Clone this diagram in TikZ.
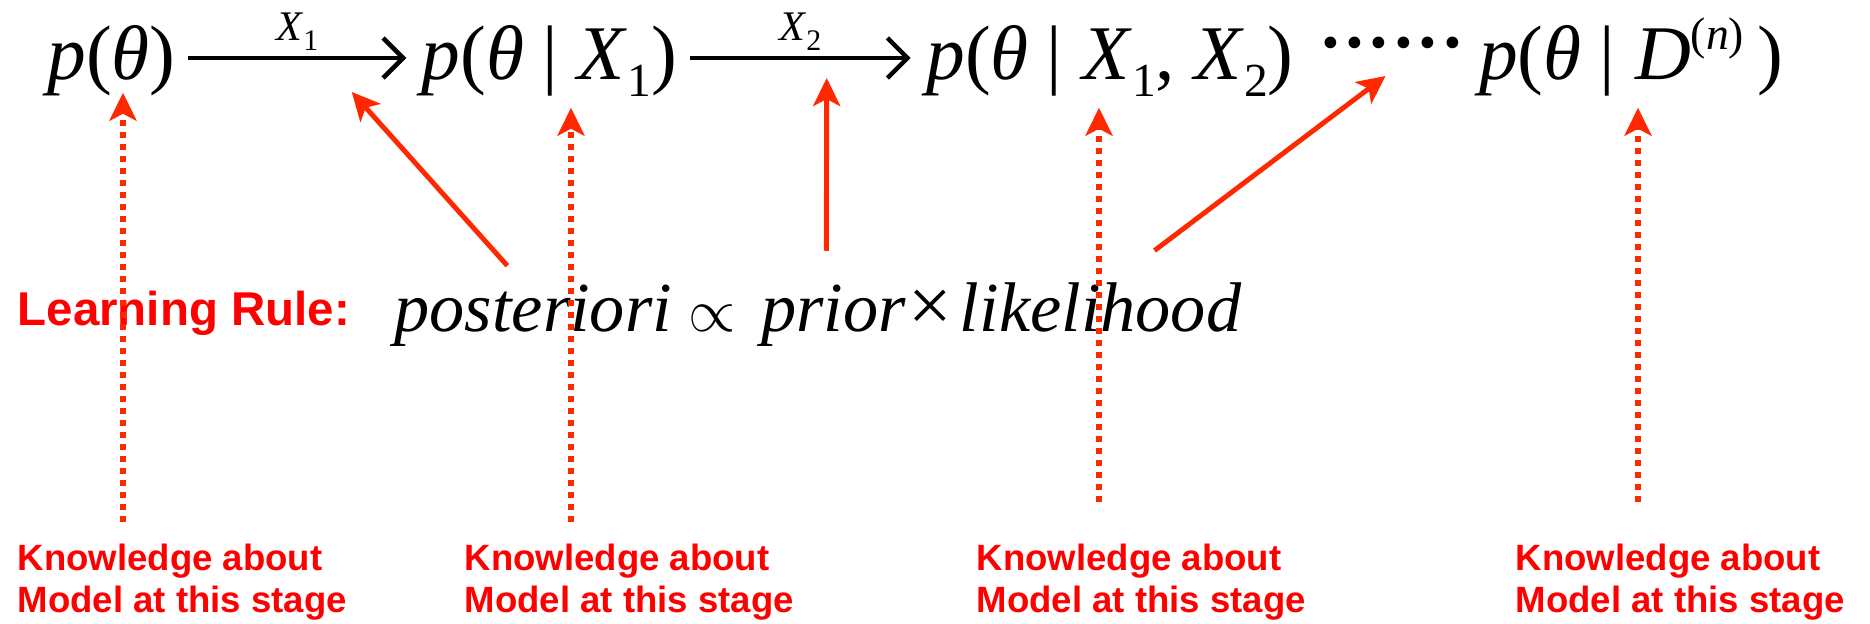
\documentclass[tikz,border=0pt]{standalone}
\usepackage{fontspec}
\setmainfont{Liberation Serif}
\newfontfamily\rulefont{Liberation Sans}
\usetikzlibrary{arrows.meta, positioning}
\definecolor{arrowred}{RGB}{255,40,0}
\newcommand{\thet}{\textit{θ}}
\newcommand{\lowidx}[1]{\raisebox{-0.17cm}{\fontsize{13.5}{14}\selectfont #1}}
\newcommand{\upidx}[1]{\raisebox{0.3cm}{\fontsize{13}{14}\selectfont #1}}
\newcommand{\given}{\hspace{0.18cm}|\hspace{0.2cm}}
\newcommand{\edgelabel}[1]{\textit{X}\raisebox{-0.1cm}{\fontsize{8.5}{9}\selectfont #1}}
\newcommand{\onedot}{\makebox[0pt]{·}}
\newcommand{\dotrow}{\raisebox{0.04cm}{\hbox to 1.22cm{\onedot\hfill\onedot\hfill\onedot\hfill\onedot\hfill\onedot\hfill\onedot}}}

\begin{document}
\begin{tikzpicture}[
  dist/.style={font=\fontsize{22}{26}\selectfont, inner sep=0pt, anchor=base,
               text height=0.62cm, text depth=0.18cm},
  rulemath/.style={font=\fontsize{20}{24}\selectfont\itshape, inner sep=0pt},
  stage/.style={font=\rulefont\bfseries\fontsize{10.4}{11.9}\selectfont, text=red,
                align=left, inner sep=0pt, anchor=north west},
  update/.style={-{Straight Barb[length=0.2cm, width=0.4cm]}, line width=1.3pt},
  known/.style={-{Stealth[length=0.28cm, width=0.27cm, inset=0.07cm]}, arrowred,
                line width=1.5pt, dash pattern=on 0.06cm off 0.06cm},
  feeds/.style={-{Stealth[length=0.28cm, width=0.27cm, inset=0.07cm]}, arrowred, line width=1.4pt}
]
\useasboundingbox (0,0) rectangle (18.7,-6.24);

% Top row: distributions
\node[dist] (prior) at (1.115,-0.80) {\textit{p}(\thet)};
\node[dist] (post1) at (5.495,-0.80) {\textit{p}(\thet\given\textit{X}\lowidx{1})};
\node[dist] (post2) at (11.10,-0.80) {\textit{p}(\thet\given\textit{X}\lowidx{1}, \textit{X}\lowidx{2})};
\node[dist, font=\fontsize{28}{28}\selectfont] (dots) at (13.915,-0.80) {\dotrow};
\node[dist] (post3) at (16.31,-0.80) {\textit{p}(\thet\given\textit{D}\upidx{(\textit{n})}\,)};

% Updates
\draw[update] ([xshift=0.12cm]prior.east) -- node[above=0.05cm, font=\fontsize{12}{14}\selectfont, inner sep=0pt] {\edgelabel{1}}
      coordinate[pos=0.75, yshift=-0.34cm] (hit1) ([xshift=-0.15cm]post1.west);
\draw[update] ([xshift=0.12cm]post1.east) -- node[above=0.05cm, font=\fontsize{12}{14}\selectfont, inner sep=0pt] {\edgelabel{2}}
      coordinate[pos=0.62, yshift=-0.20cm] (hit2) ([xshift=-0.15cm]post2.west);

% Learning rule
\node[font=\rulefont\bfseries\fontsize{13.5}{16}\selectfont, text=red, inner sep=0pt, anchor=base west] (rule) at (0.17,-3.26) {Learning Rule:};
\node[rulemath, anchor=base west] (wpost) at (3.94,-3.32) {posteriori};
\node[rulemath, base right=0.15cm of wpost, font=\fontsize{18.5}{22}\selectfont] (wprop) {$\propto$};
\node[rulemath, base right=0.24cm of wprop] (wprior) {prior};
\node[rulemath, base right=0.02cm of wprior, font=\fontsize{22}{24}\selectfont\upshape] (wtimes) {×};
\node[rulemath, base right=0.06cm of wtimes] (wlik) {likelihood};

\draw[feeds] ([shift={(-0.26,0.19)}]wpost.north) -- (hit1);
\draw[feeds] ([shift={(-0.07,0.34)}]wprior.north) -- (hit2);
\draw[feeds] ([shift={(0.54,0.32)}]wlik.north) -- ([shift={(-0.06,0.04)}]dots.base);

% Knowledge at each stage
\node[stage] (know1) at (0.17,-5.43) {Knowledge about\\Model at this stage};
\node[stage] (know2) at (4.64,-5.43) {Knowledge about\\Model at this stage};
\node[stage] (know3) at (9.76,-5.43) {Knowledge about\\Model at this stage};
\node[stage] (know4) at (15.15,-5.43) {Knowledge about\\Model at this stage};

\coordinate (k1) at (1.23,-5.22);
\coordinate (k2) at (5.71,-5.22);
\coordinate (k3) at (10.99,-5.02);
\coordinate (k4) at (16.38,-5.02);
\draw[known, shorten >=-0.06cm] (k1) -- (prior.south -| k1);
\draw[known, shorten >=0.09cm] (k2) -- (post1.south -| k2);
\draw[known, shorten >=0.09cm] (k3) -- (post2.south -| k3);
\draw[known, shorten >=0.09cm] (k4) -- (post3.south -| k4);
\end{tikzpicture}
\end{document}
